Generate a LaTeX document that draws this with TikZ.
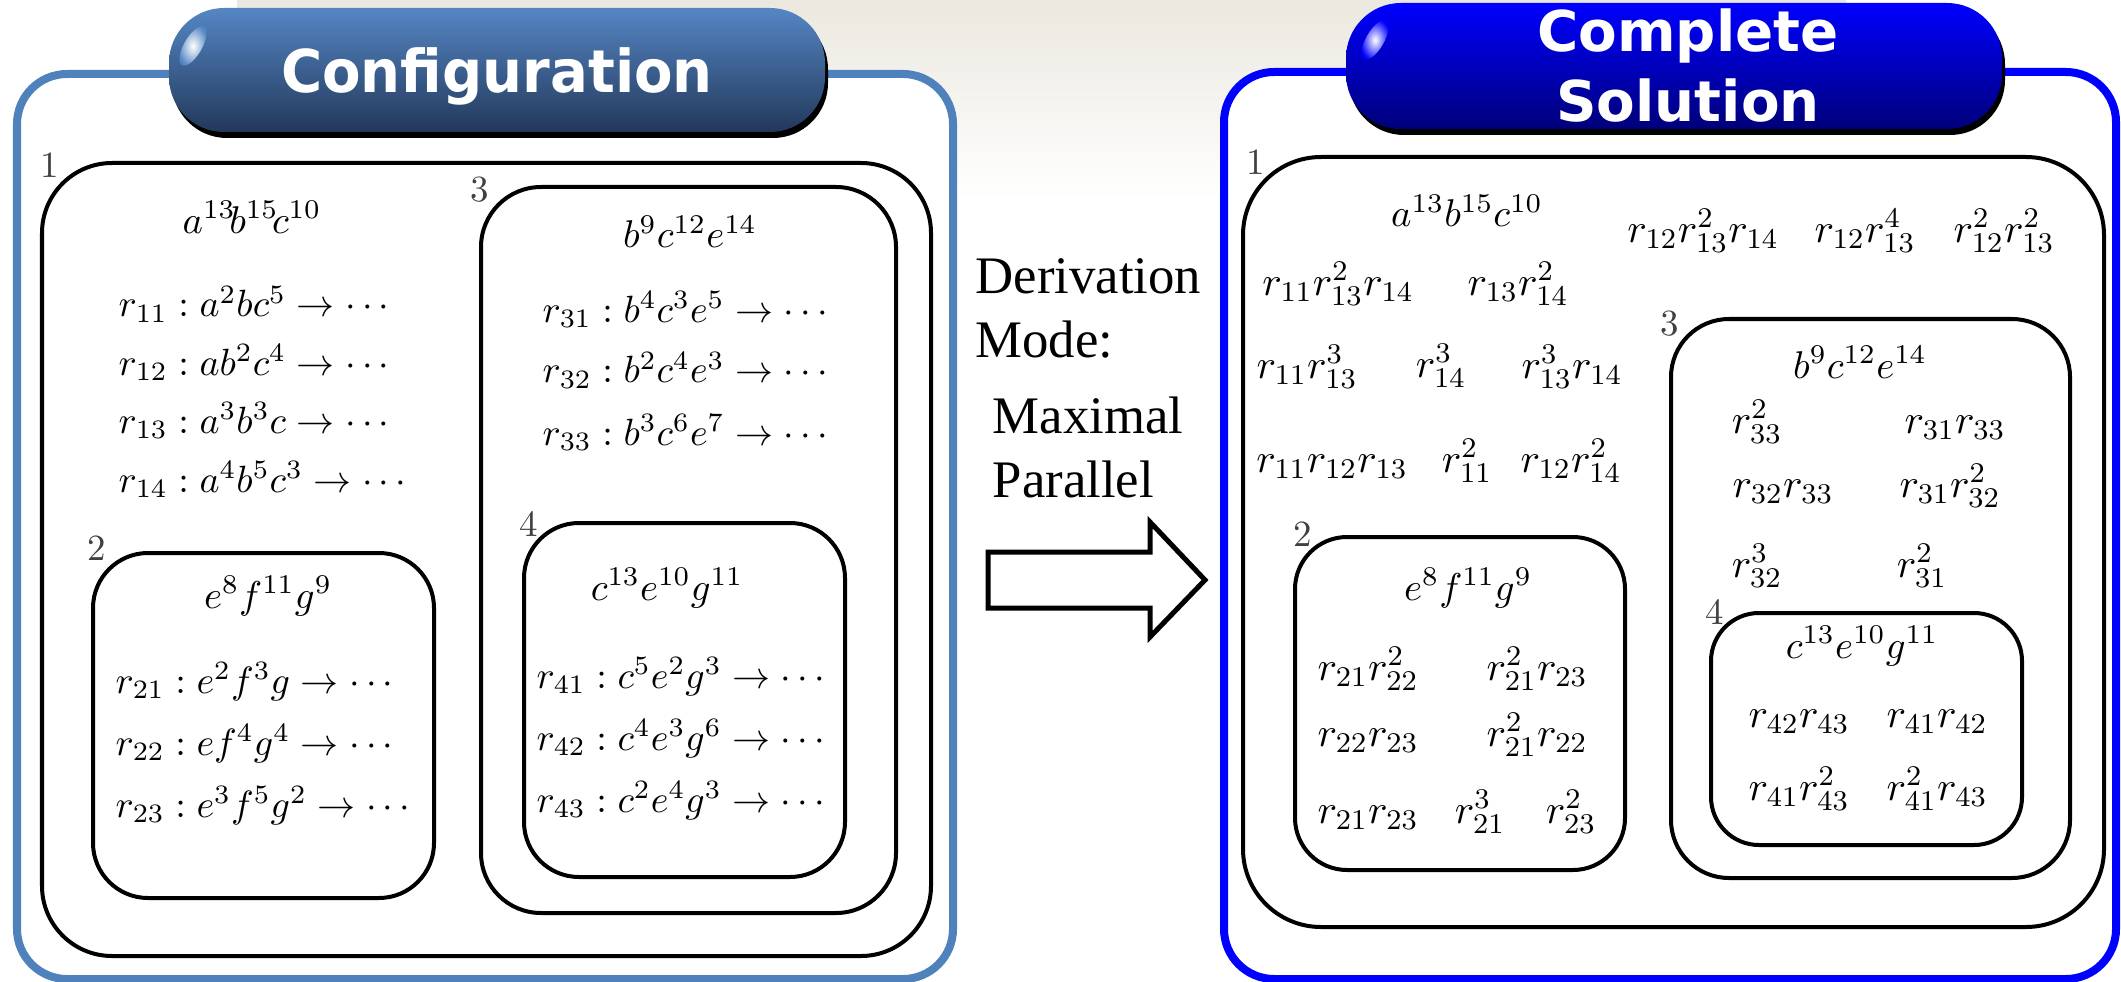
\documentclass[tikz,border=0pt]{standalone}
\usepackage{fix-cm}
\usepackage{fontspec}
\newfontfamily\titlefontA[FakeStretch=0.95]{DejaVu Sans}
\newfontfamily\titlefontB{DejaVu Sans}
\newfontfamily\timesfont{Liberation Serif}
\definecolor{bgtop}{HTML}{EBE8DF}
\definecolor{leftblue}{HTML}{4F81BD}
\definecolor{pillAtop}{HTML}{5586C4}
\definecolor{pillAbot}{HTML}{22385A}
\definecolor{pillBtop}{HTML}{0000FF}
\definecolor{pillBbot}{HTML}{00007A}
\definecolor{rightblue}{HTML}{0000FF}
\begin{document}
\begin{tikzpicture}[x=0.01cm,y=-0.01cm,
  mem/.style={draw=black, line width=0.04cm},
  lbl/.style={inner sep=0, text=black!75, font=\fontsize{10.5}{12}\selectfont},
  hdr/.style={inner sep=0, anchor=base, font=\fontsize{11}{13}\selectfont},
  rulebox/.style={inner sep=0, anchor=base west, font=\fontsize{10.8}{13}\selectfont},
  term/.style={inner sep=0, anchor=base, font=\fontsize{11.6}{13}\selectfont},
  midtext/.style={inner sep=0, anchor=base west, font=\timesfont\fontsize{15}{18}\selectfont},
  titleA/.style={inner sep=0, anchor=base, text=white, font=\titlefontA\bfseries\fontsize{16.8}{19}\selectfont},
  titleB/.style={inner sep=0, anchor=base, text=white, font=\titlefontB\bfseries\fontsize{16}{19}\selectfont}]
\useasboundingbox (0,0) rectangle (2121,982);
\fill[white] (0,0) rectangle (2121,982);
% background band
\shade[top color=bgtop, bottom color=white] (237,0) rectangle (1846,200);

% outer panels
\draw[leftblue, line width=0.08cm, fill=white, rounded corners=0.5cm] (17,74) rectangle (953,979);
\draw[rightblue, line width=0.08cm, fill=white, rounded corners=0.5cm] (1224,72) rectangle (2116,979);

% title pills
\fill[black, rounded corners=0.55cm] (172,14) rectangle (828,138);
\shade[top color=pillAtop, bottom color=pillAbot, rounded corners=0.55cm] (169,8) rectangle (825,132);
\shade[inner color=white, outer color=pillAtop, rotate around={-30:(193,46)}] (193,46) ellipse (9 and 22);
\node[titleA] (tconf) at (497,93) {Configuration};

\fill[black, rounded corners=0.55cm] (1349,9) rectangle (2005,135);
\shade[top color=pillBtop, bottom color=pillBbot, rounded corners=0.55cm] (1346,3) rectangle (2002,129);
\shade[inner color=white, outer color=pillBtop, rotate around={-30:(1375,40)}] (1375,40) ellipse (9 and 22);
\node[titleB] (tcomp) at (1688,52) {Complete};
\node[titleB] (tsol) at (1688,122) {Solution};

% ---------- left configuration ----------
\draw[mem, rounded corners=0.7cm] (42,163) rectangle (931,956);
\draw[mem, rounded corners=0.6cm] (481,187) rectangle (896,913);
\draw[mem, rounded corners=0.55cm] (93,553) rectangle (434,898);
\draw[mem, rounded corners=0.55cm] (524,523) rectangle (845,877);
\node[lbl] (L1) at (50,165) {1};
\node[lbl] (L3) at (480,190) {3};
\node[lbl] (L2) at (97,548) {2};
\node[lbl] (L4) at (529,524) {4};

\node[hdr] (lh1) at (252,233) {$a^{13}\!b^{15}\!c^{10}$};
\node[rulebox] (r11) at (118,317) {$r_{11} : a^2bc^5 \rightarrow \cdots$};
\node[rulebox] (r12) at (118,375) {$r_{12} : ab^2c^4 \rightarrow \cdots$};
\node[rulebox] (r13) at (118,433) {$r_{13} : a^3b^3c \rightarrow \cdots$};
\node[rulebox] (r14) at (118,492) {$r_{14} : a^4b^5c^3 \rightarrow \cdots$};

\node[hdr] (lh3) at (690,248) {$b^9c^{12}e^{14}$};
\node[rulebox] (r31) at (542,322) {$r_{31} : b^4c^3e^5 \rightarrow \cdots$};
\node[rulebox] (r32) at (542,383) {$r_{32} : b^2c^4e^3 \rightarrow \cdots$};
\node[rulebox] (r33) at (542,445) {$r_{33} : b^3c^6e^7 \rightarrow \cdots$};

\node[hdr] (lh2) at (268,608) {$e^8f^{11}g^9$};
\node[rulebox] (r21) at (115,693) {$r_{21} : e^2f^3g \rightarrow \cdots$};
\node[rulebox] (r22) at (115,755) {$r_{22} : ef^4g^4 \rightarrow \cdots$};
\node[rulebox] (r23) at (115,817) {$r_{23} : e^3f^5g^2 \rightarrow \cdots$};

\node[hdr] (lh4) at (667,600) {$c^{13}e^{10}g^{11}$};
\node[rulebox] (r41) at (536,688) {$r_{41} : c^5e^2g^3 \rightarrow \cdots$};
\node[rulebox] (r42) at (536,750) {$r_{42} : c^4e^3g^6 \rightarrow \cdots$};
\node[rulebox] (r43) at (536,812) {$r_{43} : c^2e^4g^3 \rightarrow \cdots$};

% ---------- middle ----------
\node[midtext] (d1) at (975,293) {Derivation};
\node[midtext] (d2) at (975,357) {Mode:};
\node[midtext] (d3) at (992,433) {Maximal};
\node[midtext] (d4) at (992,497) {Parallel};
\coordinate (aS) at (988,580);
\coordinate (aT) at (1205,580);
\draw[line width=0.05cm, fill=white, miter limit=10]
  (988,552) -- (1150,552) -- (1150,522) -- (aT) -- (1150,637) -- (1150,608) -- (988,608) -- cycle;

% ---------- right complete solution ----------
\draw[mem, rounded corners=0.78cm] (1243,157) rectangle (2104,927);
\draw[mem, rounded corners=0.58cm] (1671,319) rectangle (2070,878);
\draw[mem, rounded corners=0.52cm] (1295,537) rectangle (1625,870);
\draw[mem, rounded corners=0.48cm] (1711,613) rectangle (2022,845);
\node[lbl] (R1) at (1256,162) {1};
\node[lbl] (R3) at (1670,324) {3};
\node[lbl] (R2) at (1303,534) {2};
\node[lbl] (R4) at (1715,612) {4};

\node[hdr] (rh1) at (1467,227) {$a^{13}b^{15}c^{10}$};
\node[term] (s1) at (1703,242) {$r_{12}r_{13}^2r_{14}$};
\node[term] (s2) at (1865,242) {$r_{12}r_{13}^4$};
\node[term] (s3) at (2004,242) {$r_{12}^2r_{13}^2$};
\node[term] (s4) at (1338,295) {$r_{11}r_{13}^2r_{14}$};
\node[term] (s5) at (1518,295) {$r_{13}r_{14}^2$};
\node[term] (s6) at (1307,378) {$r_{11}r_{13}^3$};
\node[term] (s7) at (1441,377) {$r_{14}^3$};
\node[term] (s8) at (1572,378) {$r_{13}^3r_{14}$};
\node[term] (s9) at (1332,472) {$r_{11}r_{12}r_{13}$};
\node[term] (s10) at (1467,472) {$r_{11}^2$};
\node[term] (s11) at (1571,472) {$r_{12}r_{14}^2$};

\node[hdr] (rh3) at (1860,378) {$b^9c^{12}e^{14}$};
\node[term] (t1) at (1757,433) {$r_{33}^2$};
\node[term] (t2) at (1955,433) {$r_{31}r_{33}$};
\node[term] (t3) at (1783,497) {$r_{32}r_{33}$};
\node[term] (t4) at (1950,497) {$r_{31}r_{32}^2$};
\node[term] (t5) at (1757,577) {$r_{32}^3$};
\node[term] (t6) at (1922,577) {$r_{31}^2$};

\node[hdr] (rh2) at (1468,600) {$e^8f^{11}g^9$};
\node[term] (u1) at (1368,680) {$r_{21}r_{22}^2$};
\node[term] (u2) at (1537,680) {$r_{21}^2r_{23}$};
\node[term] (u3) at (1368,746) {$r_{22}r_{23}$};
\node[term] (u4) at (1537,746) {$r_{21}^2r_{22}$};
\node[term] (u5) at (1368,823) {$r_{21}r_{23}$};
\node[term] (u6) at (1480,823) {$r_{21}^3$};
\node[term] (u7) at (1571,823) {$r_{23}^2$};

\node[hdr] (rh4) at (1862,658) {$c^{13}e^{10}g^{11}$};
\node[term] (v1) at (1799,727) {$r_{42}r_{43}$};
\node[term] (v2) at (1937,727) {$r_{41}r_{42}$};
\node[term] (v3) at (1799,800) {$r_{41}r_{43}^2$};
\node[term] (v4) at (1937,800) {$r_{41}^2r_{43}$};
\end{tikzpicture}
\end{document}
